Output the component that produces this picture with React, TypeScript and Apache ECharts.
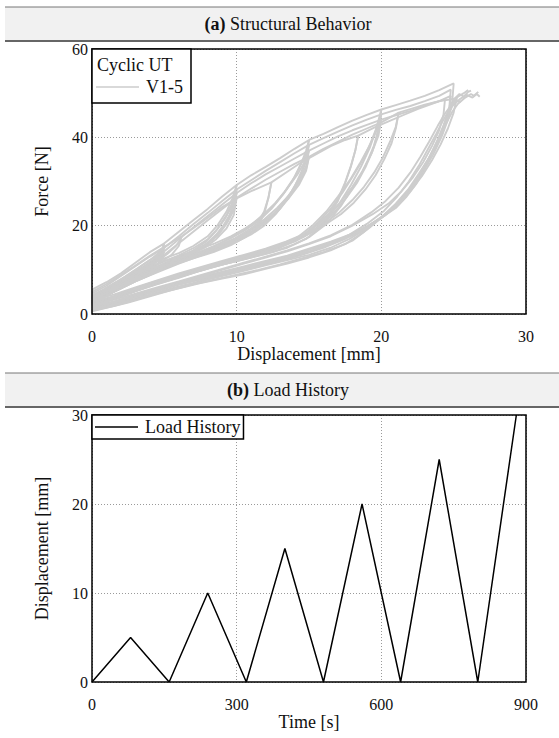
import React, { useEffect, useRef } from "react";
import * as echarts from "echarts";

type Pt = [number, number];

// Cyclic uniaxial tension, specimens V1 … V5.
// Each specimen is a list of continuous strokes: a virgin loading piece followed by its
// unloading branch, the reloading branches, and the last reloading up to rupture.
// Values: [displacement mm, force N]
const specimenV1: Pt[][] = [
  [[0, 5.5], [1, 7.2], [2, 9.2], [3, 11.6], [4, 14], [5, 16],
   [4.9, 15], [4.6, 13.8], [4, 12.2], [3.2, 10.4], [2.3, 8.5], [1.4, 6.7], [0.6, 5], [0, 4]],
  [[0, 4.2], [0.8, 5.6], [1.7, 7.2], [2.6, 8.9], [3.5, 10.6], [4.3, 12.4], [4.8, 14.2], [5, 16]],
  [[5, 16], [6, 18.6], [7, 21.2], [8, 23.8], [9, 26.6], [10, 29.2],
   [9.8, 25.2], [9.5, 22.3], [9, 19.4], [8.3, 16.8], [7.3, 14.6], [6, 13.1], [5, 12], [4, 10.5], [3, 8.8], [2, 7], [1, 5.2], [0, 3.6]],
  [[0, 3.9], [1, 5.8], [2, 7.6], [3, 9.5], [4, 11.2], [5, 12.6], [6, 13.8], [7, 15.4], [8, 17.6], [8.7, 20.2], [9.3, 23.2], [9.7, 26.2], [10, 29.2]],
  [[10, 29.2], [11, 31.4], [12, 33.3], [13, 35.3], [14, 37.4], [15, 39.4],
   [14.8, 35.6], [14.5, 32.4], [14, 28.8], [13.4, 25.6], [12.7, 22.6], [11.9, 20], [11, 18], [10, 16.4], [9, 15], [7.5, 13.4], [6, 11.6], [4.5, 9.6], [3, 7.4], [1.5, 5], [0, 2.9]],
  [[0, 3.3], [1.2, 5.3], [2.5, 7.6], [4, 10], [5.5, 12.2], [7, 14.2], [8.5, 16], [9.6, 17.6], [10.6, 19.4], [11.6, 21.6], [12.5, 24.4], [13.3, 27.6], [14, 31], [14.5, 34.4], [14.8, 37], [15, 39.4]],
  [[15, 39.4], [16, 40.8], [17, 42.3], [18, 43.8], [19, 45.1], [20, 46.3],
   [19.8, 42], [19.5, 38.2], [19, 34.3], [18.5, 31], [18, 28.6], [17.2, 24.4], [16.2, 20.4], [15, 17.4], [14, 15.8], [12.5, 14], [11, 12.8], [9.5, 11.6], [8, 10.3], [6.5, 8.8], [5, 7.4], [3.5, 5.8], [2, 4], [1, 2.8], [0, 2]],
  [[0, 2.4], [1, 3.4], [2, 4.6], [3.5, 6.4], [5, 8], [6.5, 9.4], [8, 10.8], [9.5, 12], [11, 13.4], [12.5, 14.8], [14, 16.4], [15.2, 18.6], [16.2, 21.4], [17.1, 25], [17.9, 29.2], [18.6, 33.4], [19.2, 37.6], [19.6, 41.4], [20, 46.3]],
  [[20, 46.3], [21, 47.3], [22, 48.3], [23, 49.4], [24, 50.7], [25, 52.2],
   [24.9, 48], [24.6, 44], [24.2, 40.4], [23.6, 36.2], [23, 32.8], [22.4, 29.4], [21.7, 26.4], [21, 24], [20, 21.8], [19, 19.8], [17.5, 17.4], [16, 15.6], [14.5, 14], [13, 12.6], [11.5, 11.3], [10, 10.2], [8.5, 9], [7, 7.8], [5.5, 6.4], [4, 5], [2.5, 3.6], [1, 2], [0, 1.4]],
  [[0, 1.6], [1.5, 2.8], [3, 4.4], [4.5, 5.8], [6, 7.2], [7.5, 8.4], [9, 9.6], [10.5, 10.8], [12, 12], [13.5, 13.2], [15, 14.8], [16.5, 16.4], [18, 18.2], [19.2, 20.2], [20.2, 22.4], [21.2, 25.4], [22, 28.4], [22.7, 32], [23.3, 35.4], [23.9, 39.4], [24.3, 42.8], [24.7, 46.4], [25, 48.6], [25.4, 49.8], [25.7, 49.2], [26, 50.3], [26.2, 50.6]],
];

const specimenV2: Pt[][] = [
  [[0, 4.6], [1, 6.4], [2, 8.6], [3, 10.8], [4, 13], [5, 15],
   [4.9, 14.2], [4.6, 13], [4, 11.5], [3.2, 9.8], [2.3, 8], [1.4, 6.2], [0.6, 4.5], [0, 3.2]],
  [[0, 3.6], [0.8, 5], [1.7, 6.6], [2.6, 8.2], [3.5, 9.9], [4.3, 11.6], [4.8, 13.4], [5, 15]],
  [[5, 15], [6, 17.6], [7, 20.3], [8, 22.9], [9, 25.6], [10, 28.2],
   [9.8, 24.4], [9.4, 21.2], [8.8, 18.4], [8, 16], [7, 14.2], [6, 12.8], [5, 11.4], [4, 9.8], [3, 8.2], [2, 6.4], [1, 4.6], [0, 3]],
  [[0, 3.3], [1, 5.1], [2, 6.9], [3, 8.8], [4, 10.4], [5, 11.9], [6, 13.3], [7, 14.9], [8, 16.9], [8.7, 19.4], [9.3, 22.4], [9.7, 25.2], [10, 28.2]],
  [[10, 28.2], [11, 30.3], [12, 32.4], [13, 34.4], [14, 36.4], [15, 38.3],
   [14.8, 34.6], [14.4, 31.2], [13.8, 27.8], [13.1, 24.6], [12.3, 21.8], [11.4, 19.4], [10.4, 17.4], [9.3, 15.8], [8, 14.2], [6.5, 12.4], [5, 10.6], [3.5, 8.4], [2, 6.2], [1, 4.4], [0, 2.6]],
  [[0, 2.9], [1.2, 4.9], [2.5, 7], [4, 9.4], [5.5, 11.5], [7, 13.5], [8.4, 15.3], [9.5, 17], [10.5, 18.8], [11.5, 21], [12.4, 23.8], [13.2, 27], [13.9, 30.4], [14.4, 33.6], [14.8, 36.2], [15, 38.3]],
  [[15, 38.3], [16, 39.8], [17, 41.3], [18, 42.7], [19, 44], [20, 45.2],
   [19.8, 41.2], [19.4, 37], [18.9, 33.2], [18.3, 29.6], [17.6, 26.4], [16.8, 23.2], [15.8, 19.8], [14.8, 17], [13.5, 15], [12, 13.6], [10.5, 12.4], [9, 11.2], [7.5, 9.8], [6, 8.2], [4.5, 6.8], [3, 5.2], [1.5, 3.4], [0, 1.8]],
  [[0, 2.1], [1.5, 3.8], [3, 5.6], [4.5, 7.2], [6, 8.7], [7.5, 10.2], [9, 11.6], [10.5, 12.9], [12, 14.2], [13.4, 15.8], [14.6, 17.8], [15.6, 20.6], [16.5, 23.8], [17.3, 27.4], [18, 31], [18.7, 34.8], [19.2, 38.2], [19.6, 41.6], [20, 45.2]],
  [[20, 45.2], [21, 46.2], [22, 47.1], [23, 48.2], [24, 49.4], [24.8, 50.8],
   [24.7, 46.8], [24.4, 43], [23.9, 39], [23.3, 35], [22.6, 31], [21.9, 27.6], [21.1, 24.6], [20.2, 22.2], [19, 19.8], [17.5, 17], [16, 15], [14.5, 13.4], [13, 12], [11.5, 10.8], [10, 9.6], [8.5, 8.4], [7, 7], [5.5, 5.8], [4, 4.4], [2.5, 3], [1, 1.6], [0, 0.9]],
  [[0, 1.2], [1.5, 2.4], [3, 3.8], [4.5, 5.2], [6, 6.6], [7.5, 7.8], [9, 9], [10.5, 10.2], [12, 11.4], [13.5, 12.6], [15, 14], [16.5, 15.8], [18, 17.8], [19.4, 20.2], [20.5, 23], [21.4, 26], [22.2, 29.4], [22.9, 33], [23.5, 36.6], [24, 40.2], [24.5, 44], [24.9, 47], [25.4, 48.6], [25.9, 49.6], [26.3, 49], [26.6, 49.8], [26.8, 49.2]],
];

const specimenV3: Pt[][] = [
  [[0, 3.6], [1, 5.6], [2, 7.8], [3, 10], [4, 12.2], [5, 14.2],
   [4.9, 13.4], [4.6, 12.3], [4, 10.8], [3.2, 9.1], [2.3, 7.3], [1.4, 5.5], [0.6, 3.9], [0, 2.4]],
  [[0, 2.8], [0.8, 4.2], [1.7, 5.9], [2.6, 7.6], [3.5, 9.3], [4.2, 11], [4.7, 12.6], [5, 14.2]],
  [[5, 14.2], [6, 16.9], [7, 19.6], [8, 22.2], [9, 24.8], [10, 27.4],
   [9.8, 23.4], [9.3, 20.4], [8.7, 17.8], [7.9, 15.6], [7, 14], [6, 12.4], [5, 11], [4, 9.4], [3, 7.6], [2, 5.8], [1, 4.2], [0, 2.6]],
  [[0, 2.9], [1, 4.7], [2, 6.4], [3, 8.2], [4, 9.9], [5, 11.4], [6, 12.8], [7, 14.4], [7.9, 16.4], [8.6, 18.9], [9.2, 21.6], [9.7, 24.6], [10, 27.4]],
  [[10, 27.4], [11, 29.6], [12, 31.6], [13, 33.4], [14, 35.2], [15, 37],
   [14.8, 33.6], [14.3, 30], [13.7, 26.8], [13, 23.8], [12.2, 21.2], [11.2, 18.8], [10.2, 16.8], [9, 15], [7.5, 13.2], [6, 11.4], [4.5, 9.4], [3, 7.4], [1.5, 5], [0, 2.2]],
  [[0, 2.5], [1.5, 5.4], [3, 7.9], [4.5, 10.1], [6, 12.1], [7.5, 14], [8.8, 15.9], [9.9, 17.8], [10.9, 19.9], [11.8, 22.4], [12.7, 25.2], [13.5, 28.4], [14.2, 31.6], [14.7, 34.4], [15, 37]],
  [[15, 37], [16, 38.6], [17, 40.2], [18, 41.6], [19, 42.8], [20, 44],
   [19.8, 40.4], [19.3, 36.2], [18.7, 32.4], [18, 28.8], [17.2, 25.4], [16.3, 22.4], [15.3, 19.4], [14.2, 16.8], [13, 15], [11.5, 13.4], [10, 12], [8.5, 10.8], [7, 9.4], [5.5, 7.8], [4, 6.2], [2.5, 4.6], [1, 3], [0, 2.2]],
  [[0, 2.4], [1.5, 3.8], [3, 5.4], [4.5, 7], [6, 8.6], [7.5, 10], [9, 11.4], [10.5, 12.6], [12, 14], [13.2, 15.6], [14.3, 17.6], [15.3, 20.2], [16.2, 23.2], [17, 26.6], [17.8, 30.2], [18.5, 34], [19.1, 37.6], [19.6, 41], [20, 44]],
  [[20, 44], [21, 45], [22, 46], [23, 47.2], [24, 48.2], [24.8, 49.4],
   [24.7, 46], [24.3, 42], [23.8, 38.2], [23.1, 34], [22.4, 30.4], [21.6, 26.8], [20.8, 24], [19.8, 21.4], [18.8, 18.6], [17.5, 15.8], [16, 14], [14.5, 12.6], [13, 11.2], [11.5, 10], [10, 8.9], [8.5, 7.8], [7, 6.7], [5.5, 5.4], [4, 4], [2.5, 2.6], [1, 1.4], [0, 0.6]],
  [[0, 0.9], [1.5, 2.2], [3, 3.4], [4.5, 4.8], [6, 6.2], [7.5, 7.4], [9, 8.6], [10.5, 9.8], [12, 11], [13.5, 12.2], [15, 13.4], [16.5, 15], [17.8, 17], [19, 19.4], [20.1, 22.2], [21, 25], [21.9, 28.4], [22.6, 31.8], [23.3, 35.4], [23.9, 39], [24.4, 42.6], [24.9, 45.8], [25.3, 47.6], [25.8, 49], [26.2, 49.8], [26.4, 49.4], [26.7, 50.3]],
];

const specimenV4: Pt[][] = [
  [[0, 2.8], [1, 4.8], [2, 7], [3, 9.2], [4, 11.4], [5, 13.4],
   [4.9, 12.6], [4.6, 11.5], [4, 10.1], [3.2, 8.5], [2.3, 6.8], [1.4, 5.1], [0.6, 3.5], [0, 2]],
  [[0, 2.3], [0.8, 3.8], [1.7, 5.4], [2.6, 7], [3.4, 8.6], [4.2, 10.4], [4.7, 11.9], [5, 13.4]],
  [[5, 13.4], [6, 16], [7, 18.6], [8, 21.2], [9, 23.8], [10, 26.3],
   [9.8, 22.4], [9.3, 19.4], [8.6, 17], [7.8, 15], [6.8, 13.4], [5.8, 12.2], [4.8, 10.8], [3.8, 9.2], [2.8, 7.4], [1.8, 5.6], [0.9, 4], [0, 2.4]],
  [[0, 2.7], [1, 4.4], [2, 6.1], [3, 7.9], [4, 9.6], [5, 11.2], [6, 12.6], [7, 14], [7.9, 15.8], [8.6, 18], [9.2, 20.6], [9.7, 23.4], [10, 26.3]],
  [[10, 26.3], [11, 28.4], [12, 30.4], [13, 32.2], [14, 34], [15, 35.6],
   [14.8, 32.4], [14.3, 29.2], [13.6, 26.2], [12.8, 23.4], [11.8, 20.8], [10.8, 18.6], [9.8, 16.8], [8.6, 15], [7.2, 13.2], [5.8, 11.4], [4.4, 9.4], [3, 7.4], [1.5, 5], [0, 2.6]],
  [[0, 2.9], [1.5, 5.4], [3, 7.7], [4.5, 9.8], [6, 11.8], [7.4, 13.6], [8.7, 15.4], [9.9, 17.2], [10.9, 19.2], [11.9, 21.4], [12.8, 24], [13.6, 26.8], [14.3, 29.8], [14.8, 32.8], [15, 35.6]],
  [[15, 35.6], [16, 37.4], [17, 39], [18, 40.6], [19, 42], [20, 43.4], [21.2, 45.6],
   [21, 42], [20.7, 38.6], [20.2, 35], [19.6, 31.4], [18.9, 28.2], [18.1, 25.2], [17.2, 22.6], [16, 20], [14.8, 17.8], [13.5, 16], [12, 14.4], [10.5, 13], [9, 11.6], [7.5, 10.2], [6, 8.6], [4.5, 7], [3, 5.2], [1.5, 3.4], [0, 2.4]],
  [[0, 2.6], [1.5, 3.8], [3, 5.4], [4.5, 7.2], [6, 8.8], [7.5, 10.4], [9, 11.8], [10.5, 13.2], [12, 14.6], [13.5, 16.2], [14.8, 18], [16, 20.4], [17.1, 23], [18, 25.8], [18.8, 28.8], [19.5, 32], [20.1, 35.4], [20.6, 39], [21, 42.4], [21.2, 45.6]],
  [[21.2, 45.6], [22, 46.4], [23, 47.4], [24, 48.2], [25.2, 48.8],
   [25, 45.6], [24.6, 42], [24.1, 38.4], [23.5, 34.8], [22.8, 31.2], [22, 27.8], [21.2, 25], [20.2, 22.4], [19.2, 19.6], [18, 16.6], [16.5, 14.4], [15, 12.8], [13.5, 11.4], [12, 10.2], [10.5, 9], [9, 8], [7.5, 7], [6, 5.8], [4.5, 4.6], [3, 3.2], [1.5, 1.8], [0, 0.8]],
  [[0, 1.4], [1.5, 2.6], [3, 4], [4.5, 5.4], [6, 6.8], [7.5, 8], [9, 9.2], [10.5, 10.4], [12, 11.6], [13.5, 12.8], [15, 14.2], [16.5, 16], [17.8, 18], [19, 20.4], [20.2, 23.4], [21.1, 26.6], [21.9, 30], [22.6, 33.6], [23.2, 37.2], [23.8, 40.8], [24.3, 44], [24.8, 46.8], [25.2, 48.4], [25.5, 48]],
];

const specimenV5: Pt[][] = [
  [[0, 5], [1, 6.8], [2, 8.8], [3, 11], [4, 13.2], [5, 15.2], [6.2, 17.6],
   [6.1, 16.8], [5.8, 15.4], [5.2, 13.6], [4.4, 11.7], [3.5, 9.8], [2.5, 8], [1.5, 6.2], [0.6, 4.5], [0, 3.4]],
  [[0, 3.8], [0.8, 5], [1.7, 6.6], [2.7, 8.2], [3.7, 9.9], [4.7, 11.6], [5.5, 13.4], [6, 15.4], [6.2, 17.6]],
  [[6.2, 17.6], [7, 19.4], [8, 21.8], [9, 24.2], [10, 26.2], [11, 27.8], [12.4, 29.8],
   [12.2, 26.4], [11.9, 22.6], [11.4, 19.6], [10.6, 17.4], [9.6, 15.6], [8.4, 14], [7, 12.6], [5.5, 11], [4, 9], [2.5, 7], [1.2, 5], [0, 3.4]],
  [[0, 3.7], [1.2, 5.4], [2.5, 7.4], [4, 9.4], [5.5, 11.4], [7, 13], [8.4, 14.4], [9.6, 16], [10.6, 18], [11.4, 20.4], [11.9, 23.2], [12.2, 26.4], [12.4, 29.8]],
  [[12.4, 29.8], [13.5, 32.2], [14.5, 34.4], [15.5, 36.2], [16.5, 38], [17.5, 39.4], [18.4, 40.4],
   [18.2, 37], [17.9, 33.4], [17.5, 29.6], [17, 25.6], [16.4, 22.4], [15.6, 19.6], [14.6, 17.4], [13.4, 15.8], [12, 14.4], [10.5, 13], [9, 11.6], [7.5, 10.2], [6, 8.8], [4.5, 7.2], [3, 5.6], [1.5, 4], [0, 2.8]],
  [[0, 3.1], [1.5, 4.4], [3, 6], [4.5, 7.6], [6, 9.2], [7.5, 10.6], [9, 12], [10.5, 13.4], [12, 14.8], [13.4, 16.4], [14.6, 18], [15.6, 20.2], [16.4, 22.8], [17, 26], [17.5, 29.8], [17.9, 33.6], [18.2, 37], [18.4, 40.4]],
  [[18.4, 40.4], [19.5, 42.2], [20.5, 43.6], [21.5, 45], [22.5, 46.4], [23.5, 47.6], [24.4, 48.6],
   [24.3, 45.2], [24, 41.6], [23.5, 38], [22.9, 34.4], [22.2, 31], [21.4, 27.8], [20.5, 25], [19.4, 22.6], [18, 20], [16.5, 17.6], [15, 15.8], [13.5, 14.2], [12, 12.8], [10.5, 11.4], [9, 10], [7.5, 8.6], [6, 7.2], [4.5, 5.8], [3, 4.2], [1.5, 2.8], [0, 1.8]],
  [[0, 2], [1.5, 3.2], [3, 4.6], [4.5, 6], [6, 7.4], [7.5, 8.8], [9, 10.2], [10.5, 11.6], [12, 13], [13.5, 14.4], [15, 16], [16.5, 17.8], [18, 20.2], [19.3, 23], [20.3, 25.6], [21.2, 28.6], [22, 32], [22.7, 35.6], [23.3, 39], [23.9, 42.6], [24.4, 45.4], [24.9, 47.6], [25.3, 49.2], [25.7, 50], [26, 50.7]],
];

const specimens = [specimenV1, specimenV2, specimenV3, specimenV4, specimenV5];

// Prescribed displacement history (triangular cycles, 5 mm increments)
const loadTime = [0, 80, 160, 240, 320, 400, 480, 560, 640, 720, 800, 880];
const loadDisp = [0, 5, 0, 10, 0, 15, 0, 20, 0, 25, 0, 30];

const FONT = "Liberation Serif";
const GREY = "#cdcdcd";

const axisText = { fontFamily: FONT, fontSize: 16, color: "#111" };
const nameText = { fontFamily: FONT, fontSize: 18, color: "#111" };

function textWidth(text: string, font: string): number {
  const ctx = document.createElement("canvas").getContext("2d");
  if (!ctx) return text.length * 8;
  ctx.font = font;
  return ctx.measureText(text).width;
}

// Grey caption bar with a bold panel letter followed by the caption, centred at x = 288
function titleBar(y: number, letter: string, caption: string) {
  const size = 18;
  const label = `(${letter})`;
  const wLabel = textWidth(label, `bold ${size}px ${FONT}`);
  const wGap = textWidth(" ", `${size}px ${FONT}`);
  const wCaption = textWidth(caption, `${size}px ${FONT}`);
  const x0 = 288 - (wLabel + wGap + wCaption) / 2;
  return [
    { type: "rect", shape: { x: 5, y, width: 560, height: 34 }, style: { fill: "#f1f1f1" }, silent: true },
    { type: "line", shape: { x1: 5, y1: y, x2: 565, y2: y }, style: { stroke: "#777", lineWidth: 1 } },
    { type: "line", shape: { x1: 5, y1: y + 34, x2: 565, y2: y + 34 }, style: { stroke: "#666", lineWidth: 2 } },
    {
      type: "text", x: x0, y: y + 17,
      style: { text: label, fontFamily: FONT, fontSize: size, fontWeight: "bold", fill: "#111", align: "left", verticalAlign: "middle" },
    },
    {
      type: "text", x: x0 + wLabel + wGap, y: y + 17,
      style: { text: caption, fontFamily: FONT, fontSize: size, fill: "#111", align: "left", verticalAlign: "middle" },
    },
  ];
}

export default function App() {
  const ref = useRef<HTMLDivElement>(null);

  useEffect(() => {
    if (!ref.current) return;
    const chart = echarts.init(ref.current, undefined, { renderer: "svg" });

    const hysteresis: any[] = [];
    specimens.forEach((spec) =>
      spec.forEach((branch) =>
        hysteresis.push({
          type: "line",
          name: "V1-5",
          xAxisIndex: 0,
          yAxisIndex: 0,
          data: branch,
          symbol: "none",
          lineStyle: { color: GREY, width: 1.9 },
          itemStyle: { color: GREY },
          z: 2,
        })
      )
    );

    const gridLine = { show: true, lineStyle: { color: "#9a9a9a", width: 1, type: [1, 2] } };

    chart.setOption({
      animation: false,
      backgroundColor: "#fff",
      textStyle: { fontFamily: FONT },
      grid: [
        { left: 92, top: 49, width: 434, height: 265, show: true, borderColor: "#000", borderWidth: 1.5, backgroundColor: "transparent", z: 3 },
        { left: 92, top: 415, width: 434, height: 267, show: true, borderColor: "#000", borderWidth: 1.5, backgroundColor: "transparent", z: 3 },
      ],
      xAxis: [
        {
          gridIndex: 0, type: "value", min: 0, max: 30, interval: 10,
          name: "Displacement [mm]", nameLocation: "middle", nameGap: 29, nameTextStyle: nameText,
          axisLine: { show: false }, axisTick: { show: false },
          axisLabel: { ...axisText, margin: 14 }, splitLine: gridLine,
        },
        {
          gridIndex: 1, type: "value", min: 0, max: 900, interval: 300,
          name: "Time [s]", nameLocation: "middle", nameGap: 29, nameTextStyle: nameText,
          axisLine: { show: false }, axisTick: { show: false },
          axisLabel: { ...axisText, margin: 14 }, splitLine: gridLine,
        },
      ],
      yAxis: [
        {
          gridIndex: 0, type: "value", min: 0, max: 60, interval: 20,
          name: "Force [N]", nameLocation: "middle", nameGap: 41, nameRotate: 90, nameTextStyle: nameText,
          axisLine: { show: false }, axisTick: { show: false },
          axisLabel: { ...axisText, margin: 4 }, splitLine: gridLine,
        },
        {
          gridIndex: 1, type: "value", min: 0, max: 30, interval: 10,
          name: "Displacement [mm]", nameLocation: "middle", nameGap: 41, nameRotate: 90, nameTextStyle: nameText,
          axisLine: { show: false }, axisTick: { show: false },
          axisLabel: { ...axisText, margin: 4 }, splitLine: gridLine,
        },
      ],
      legend: [
        {
          data: ["V1-5"],
          left: 96, top: 78, padding: 0,
          icon: "rect",
          itemWidth: 43, itemHeight: 1.7, itemGap: 0,
          textStyle: { fontFamily: FONT, fontSize: 18, color: "#111", padding: [0, 0, 0, 2] },
          selectedMode: false,
          z: 10,
        },
        {
          data: ["Load History"],
          left: 92, top: 415, padding: [3, 3, 3, 3],
          borderColor: "#000", borderWidth: 1.5, borderRadius: 0, backgroundColor: "#fff",
          icon: "rect",
          itemWidth: 43, itemHeight: 1.5,
          textStyle: { fontFamily: FONT, fontSize: 18, color: "#111", padding: [0, 0, 0, 2] },
          selectedMode: false,
          z: 10,
        },
      ],
      graphic: [
        ...titleBar(7, "a", "Structural Behavior"),
        ...titleBar(373, "b", "Load History"),
        {
          type: "rect",
          z: 5,
          shape: { x: 92, y: 49, width: 99, height: 54 },
          style: { fill: "#fff", stroke: "#000", lineWidth: 1.5 },
        },
        {
          type: "text",
          z: 6,
          x: 97,
          y: 65,
          style: { text: "Cyclic UT", fontFamily: FONT, fontSize: 18, fill: "#111", verticalAlign: "middle" },
        },
      ],
      series: [
        ...hysteresis,
        {
          type: "line",
          name: "Load History",
          xAxisIndex: 1,
          yAxisIndex: 1,
          data: loadTime.map((t, i) => [t, loadDisp[i]]),
          symbol: "none",
          lineStyle: { color: "#000", width: 1.5 },
          itemStyle: { color: "#000" },
          z: 2,
        },
      ],
    });

    return () => chart.dispose();
  }, []);

  return (
    <div
      ref={ref}
      style={{ position: "fixed", left: 0, top: 0, width: 559, height: 738, background: "#fff" }}
    />
  );
}
